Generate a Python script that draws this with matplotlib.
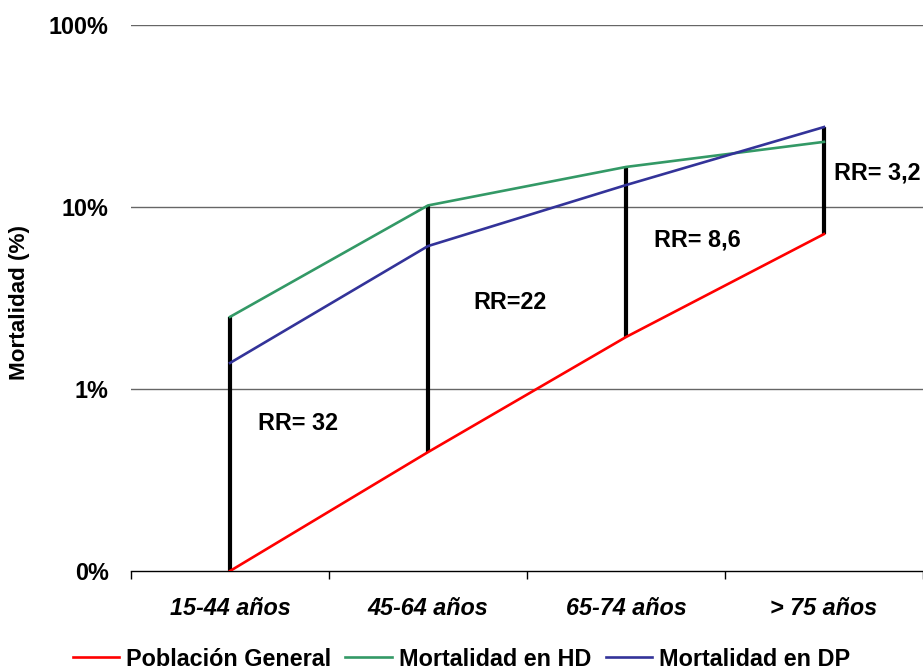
import matplotlib
matplotlib.use('Agg')
import matplotlib.pyplot as plt
from matplotlib.ticker import FixedLocator, NullFormatter

categories = ['15-44 años', '45-64 años', '65-74 años', '> 75 años']
poblacion = [0.10, 0.45, 1.93, 7.1]      # % mortality, log scale
hd = [2.49, 10.2, 16.6, 22.8]
dp = [1.39, 6.1, 13.2, 27.5]
rr_labels = ['RR= 32', 'RR=22', 'RR= 8,6', 'RR= 3,2']
rr_pos = [(0.14, 0.65), (1.23, 3.0), (2.14, 6.6), (3.05, 15.4)]
yticks = [0.1, 1, 10, 100]
ytick_labels = ['0%', '1%', '10%', '100%']

plt.rcParams.update({'font.family': ['Liberation Sans', 'DejaVu Sans'],
                     'font.weight': 'bold'})
FS = 16.8

fig = plt.figure(figsize=(9.23, 6.72), dpi=100)
ax = fig.add_axes([131 / 923, 101 / 672, 792 / 923, 546 / 672])
x = list(range(len(categories)))

# vertical RR bars from min to max of the three series
for i in x:
    lo = min(poblacion[i], hd[i], dp[i])
    hi = max(poblacion[i], hd[i], dp[i])
    ax.plot([i, i], [lo, hi], color='black', lw=3.0, solid_capstyle='butt', zorder=3)

l1, = ax.plot(x, poblacion, color='#FF0000', lw=1.9, zorder=4, label='Población General')
l2, = ax.plot(x, hd, color='#339966', lw=1.9, zorder=4, label='Mortalidad en HD')
l3, = ax.plot(x, dp, color='#333399', lw=1.9, zorder=4, label='Mortalidad en DP')

for (tx, ty), s in zip(rr_pos, rr_labels):
    ax.text(tx, ty, s, fontsize=FS, fontweight='bold', ha='left', va='center')

ax.set_yscale('log')
ax.set_ylim(0.1, 100)
ax.set_xlim(-0.5, 3.5)
ax.yaxis.set_major_locator(FixedLocator(yticks))
ax.yaxis.set_minor_locator(FixedLocator([]))
ax.set_yticklabels(ytick_labels, fontsize=FS, fontweight='bold')
ax.tick_params(axis='y', length=0, pad=16)
for yv in yticks[1:]:
    ax.axhline(yv, color='#666666', lw=1.0, zorder=1)

ax.xaxis.set_major_locator(FixedLocator([-0.5, 0.5, 1.5, 2.5, 3.5]))
ax.xaxis.set_major_formatter(NullFormatter())
ax.xaxis.set_minor_locator(FixedLocator(x))
ax.set_xticklabels(categories, minor=True, fontsize=FS, fontweight='bold', style='italic')
ax.tick_params(axis='x', which='major', direction='out', length=6, width=1)
ax.tick_params(axis='x', which='minor', length=0, pad=19)

for s in ['left', 'right', 'top']:
    ax.spines[s].set_visible(False)
ax.spines['bottom'].set_linewidth(1.0)

fig.text(20 / 923, 1 - 302 / 672, 'Mortalidad (%)', rotation=90, fontsize=16.2,
         fontweight='bold', ha='center', va='center')

fig.legend(handles=[l1, l2, l3], loc='lower center', bbox_to_anchor=(0.5, 0.002),
           ncol=3, frameon=False, handlelength=2.0, handletextpad=0.3,
           columnspacing=0.6, borderpad=0, borderaxespad=0,
           prop={'weight': 'bold', 'size': FS})

fig.savefig('out.png', dpi=100)
